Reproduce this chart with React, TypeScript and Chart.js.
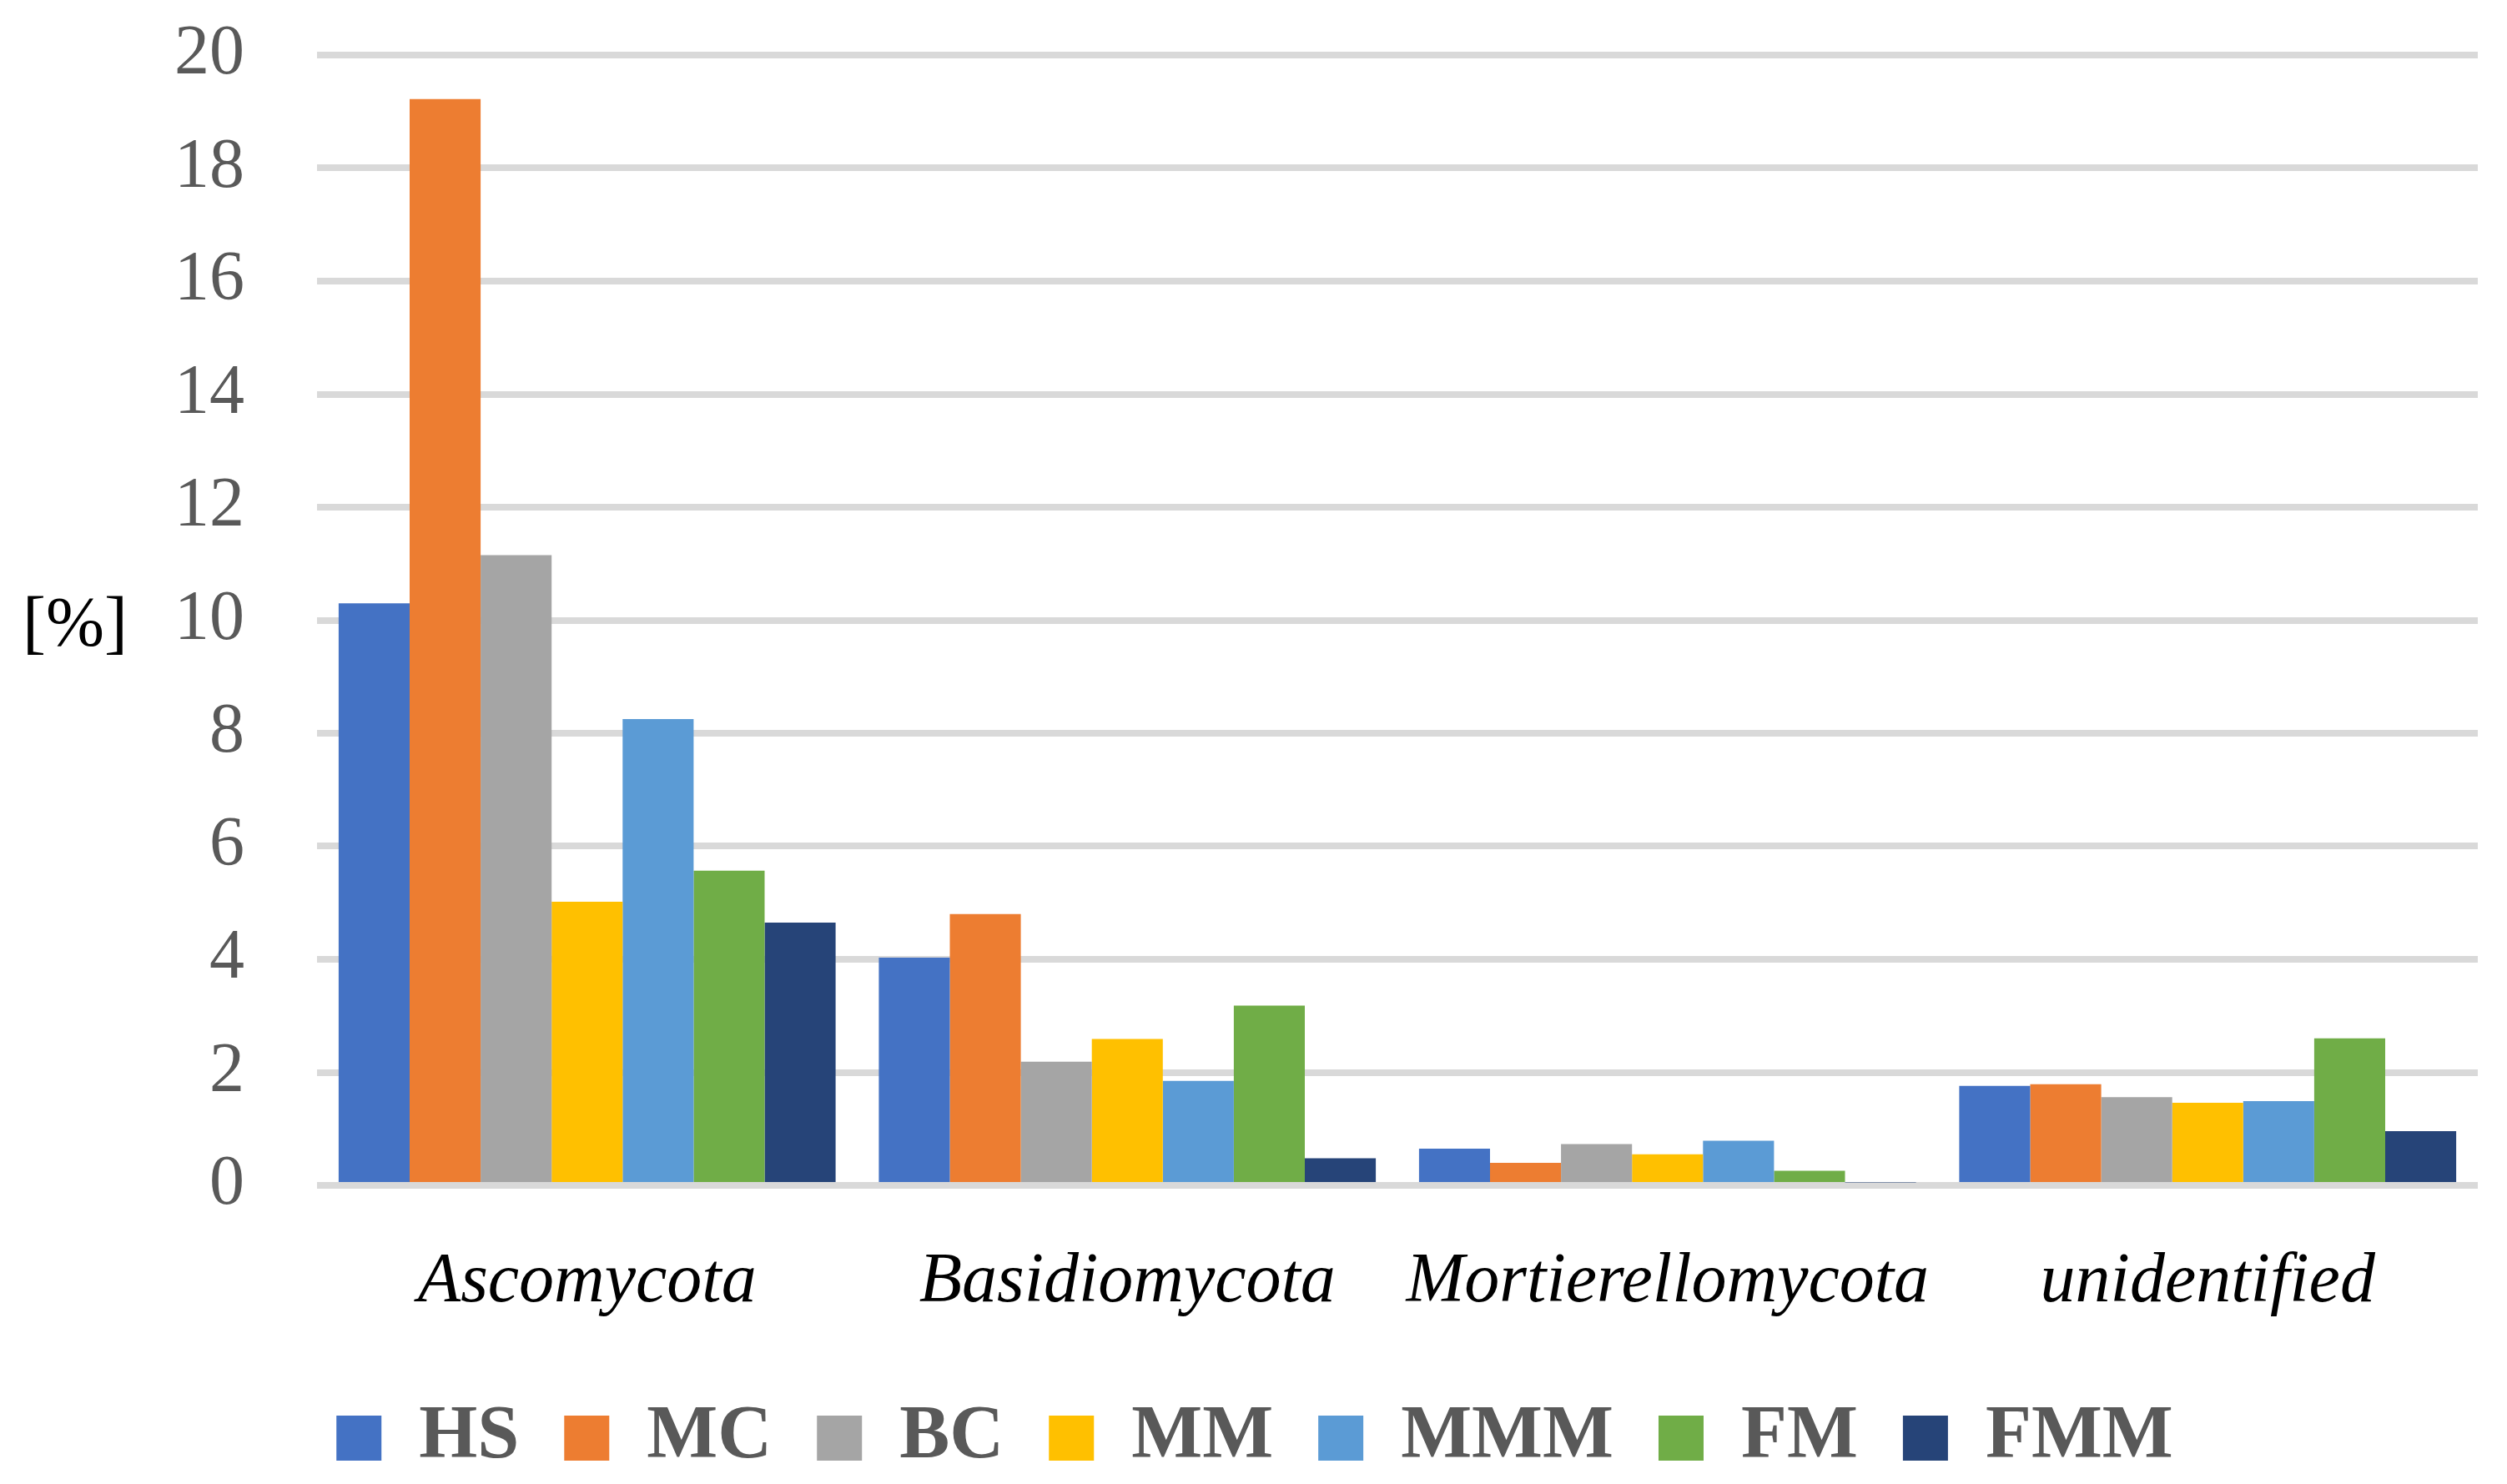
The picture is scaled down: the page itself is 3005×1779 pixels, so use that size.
import React, { useEffect, useRef } from "react";
import { Chart, registerables } from "chart.js";

Chart.register(...registerables);

const categories = ["Ascomycota", "Basidiomycota", "Mortierellomycota", "unidentified"];
const seriesNames = ["HS", "MC", "BC", "MM", "MMM", "FM", "FMM"];
const seriesColors = ["#4472C4", "#ED7D31", "#A5A5A5", "#FFC000", "#5B9BD5", "#70AD47", "#264478"];
const hsValues = [10.3, 4.03, 0.65, 1.76];
const mcValues = [19.22, 4.8, 0.4, 1.79];
const bcValues = [11.15, 2.19, 0.73, 1.56];
const mmValues = [5.02, 2.59, 0.55, 1.46];
const mmmValues = [8.25, 1.85, 0.79, 1.49];
const fmValues = [5.57, 3.18, 0.26, 2.6];
const fmmValues = [4.65, 0.48, 0.05, 0.96];
const seriesValues = [hsValues, mcValues, bcValues, mmValues, mmmValues, fmValues, fmmValues];
const yTicks = [0, 2, 4, 6, 8, 10, 12, 14, 16, 18, 20];
const yUnitLabel = "[%]";

const FONT = "'Liberation Serif', 'Times New Roman', serif";

export default function App() {
  const ref = useRef<HTMLCanvasElement | null>(null);

  useEffect(() => {
    if (!ref.current) return;
    const unitPlugin = {
      id: "unitLabel",
      afterLayout(chart: any) {
        if (chart.legend) {
          chart.legend.left += 19;
          chart.legend.right += 19;
        }
      },
      afterDraw(chart: any) {
        const ctx = chart.ctx;
        ctx.save();
        ctx.font = `84px ${FONT}`;
        ctx.fillStyle = "#000000";
        ctx.textAlign = "center";
        ctx.textBaseline = "middle";
        ctx.fillText(yUnitLabel, 90, 752);
        ctx.restore();
      },
    };
    const chart = new Chart(ref.current, {
      type: "bar",
      data: {
        labels: categories,
        datasets: seriesNames.map((name, i) => ({
          label: name,
          data: seriesValues[i],
          backgroundColor: seriesColors[i],
          borderWidth: 0,
          barPercentage: 1,
          categoryPercentage: 0.92,
        })),
      },
      options: {
        animation: false,
        responsive: false,
        devicePixelRatio: 1,
        layout: { padding: { top: 66, right: 35, left: 0, bottom: 0 } },
        plugins: {
          tooltip: { enabled: false },
          legend: {
            position: "bottom",
            maxHeight: 157,
            labels: {
              boxWidth: 54,
              boxHeight: 54,
              padding: 54,
              color: "#595959",
              font: { family: FONT, size: 90, weight: "bold" },
            },
          },
        },
        scales: {
          x: {
            grid: { display: false, drawTicks: false },
            border: { display: false },
            ticks: {
              color: "#000000",
              padding: 67,
              font: { family: FONT, size: 84, style: "italic" },
            },
            afterFit(scale: any) {
              scale.height = 204;
            },
          },
          y: {
            min: 0,
            max: 20,
            afterBuildTicks(scale: any) {
              scale.ticks = yTicks.map((v) => ({ value: v }));
            },
            grid: { color: "#D9D9D9", lineWidth: 8, drawTicks: false },
            border: { display: false },
            ticks: {
              color: "#595959",
              padding: 87,
              font: { family: FONT, size: 84 },
            },
            afterFit(scale: any) {
              scale.width = 380;
              scale.paddingTop = 0;
              scale.paddingBottom = 0;
            },
          },
        },
      },
      plugins: [unitPlugin],
    });
    return () => chart.destroy();
  }, []);

  return (
    <div style={{ position: "absolute", left: 0, top: 0, width: 3005, height: 1779, background: "#fff" }}>
      <canvas ref={ref} width={3005} height={1779} style={{ width: 3005, height: 1779, display: "block" }} />
    </div>
  );
}
